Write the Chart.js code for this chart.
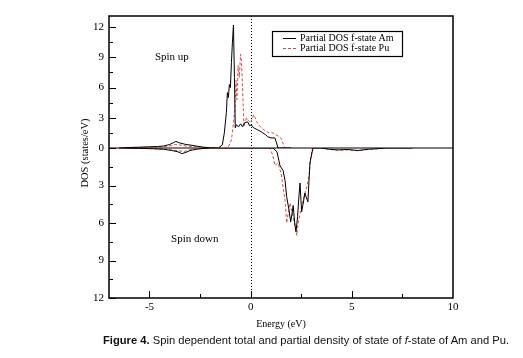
<!DOCTYPE html>
<html>
<head>
<meta charset="utf-8">
<script src="https://cdn.jsdelivr.net/npm/chart.js@4.4.1/dist/chart.umd.min.js"></script>
<style>
  html, body { margin: 0; padding: 0; background: #fff; }
  #wrap { position: relative; width: 523px; height: 358px; }
  #caption { position: absolute; left: 103px; top: 334px; font-family: 'Liberation Sans', Arial, sans-serif; font-size: 11.2px; color: #111; white-space: nowrap; }
</style>
</head>
<body>
<div id="wrap">
  <canvas id="c" width="523" height="358"></canvas>
  <div id="caption"><b>Figure 4.</b> Spin dependent total and partial density of state of <i>f</i>-state of Am and Pu.</div>
</div>
<script>
// ---- data ----
const seriesLabels = ['Partial DOS f-state Am', 'Partial DOS f-state Pu'];

const energyAmUp = [-6.5, -6, -5.5, -5, -4.6, -4.3, -4.0, -3.8, -3.7, -3.5, -3.2, -3.0, -2.7, -2.4, -2.0, -1.6, -1.4, -1.3, -1.2, -1.15, -1.1, -1.05, -1.0, -0.95, -0.9, -0.85, -0.8, -0.76, -0.7, -0.6, -0.5, -0.4, -0.3, -0.15, -0.05, 0.03, 0.15, 0.35, 0.45, 0.6, 0.75, 0.85, 1.0, 1.2, 1.28, 1.35, 2.0];
const dosAmUp    = [0, 0.05, 0.08, 0.12, 0.15, 0.2, 0.35, 0.55, 0.65, 0.5, 0.35, 0.3, 0.2, 0.1, 0.02, 0, 0.3, 1.5, 3.5, 5.5, 5.0, 6.3, 6.0, 8.5, 10.5, 12.2, 7.0, 2.0, 2.3, 2.1, 2.4, 2.1, 2.5, 2.6, 2.2, 2.3, 2.0, 1.8, 1.7, 1.5, 1.3, 1.1, 1.0, 1.0, 0.5, 0, 0];

const energyAmDown = [-6.5, -5.5, -4.8, -4.3, -3.9, -3.6, -3.4, -3.2, -3.0, -2.7, -2.4, -2.0, 1.1, 1.3, 1.45, 1.6, 1.7, 1.78, 1.9, 1.98, 2.05, 2.1, 2.18, 2.24, 2.32, 2.38, 2.44, 2.52, 2.6, 2.68, 2.76, 2.83, 2.93, 3.08, 3.5, 3.9, 4.3, 4.8, 5.3, 5.8, 6.3, 6.7, 8];
const dosAmDown    = [0, -0.03, -0.06, -0.1, -0.2, -0.3, -0.45, -0.35, -0.2, -0.1, -0.05, 0, 0, -0.3, -1.4, -1.8, -2.6, -3.9, -5.0, -5.9, -5.2, -4.6, -6.0, -6.7, -5.5, -4.0, -2.8, -5.1, -4.4, -3.6, -4.0, -4.3, -1.2, 0, 0, -0.1, -0.15, -0.12, -0.2, -0.1, -0.05, 0, 0];

const energyPuUp = [-6.5, -6, -5.5, -5, -4.5, -4.2, -3.9, -3.7, -3.5, -3.2, -2.9, -2.6, -2.3, -2.0, -1.5, -1.1, -0.95, -0.85, -0.78, -0.72, -0.68, -0.62, -0.56, -0.5, -0.45, -0.4, -0.33, -0.27, -0.2, -0.1, 0, 0.08, 0.15, 0.22, 0.3, 0.4, 0.53, 0.65, 0.8, 0.95, 1.1, 1.25, 1.44, 1.55, 1.62, 1.7, 2.0];
const dosPuUp    = [0, 0.03, 0.06, 0.08, 0.1, 0.15, 0.25, 0.35, 0.3, 0.2, 0.15, 0.1, 0.05, 0.02, 0, 0.1, 0.8, 2.5, 3.8, 6.7, 4.8, 8.2, 7.0, 9.3, 8.5, 6.0, 2.1, 2.6, 3.0, 2.7, 2.5, 2.9, 3.3, 3.0, 2.6, 2.3, 2.0, 1.8, 1.6, 1.5, 1.5, 1.3, 1.1, 0.8, 0.3, 0, 0];

const energyPuDown = [-6.5, -5.5, -4.8, -4.3, -3.9, -3.6, -3.3, -3.0, -2.6, -2.0, 0.95, 1.1, 1.2, 1.35, 1.5, 1.62, 1.7, 1.78, 1.88, 1.95, 2.02, 2.1, 2.2, 2.28, 2.35, 2.45, 2.53, 2.65, 2.78, 2.9, 2.97, 3.05, 3.5, 3.9, 4.3, 4.8, 5.3, 5.8, 6.3, 6.7, 8];
const dosPuDown    = [0, -0.02, -0.05, -0.08, -0.15, -0.22, -0.28, -0.15, -0.05, 0, 0, -0.6, -1.4, -1.2, -2.0, -3.3, -4.2, -6.0, -5.0, -4.4, -5.0, -5.5, -6.4, -7.0, -6.0, -5.2, -4.6, -3.8, -3.1, -2.0, -0.7, 0, 0, -0.12, -0.18, -0.15, -0.22, -0.12, -0.05, 0, 0];

const xMajorTicks = [-5, 0, 5, 10];
const yMajorTicks = [0, 3, 6, 9, 12];

// ---- build ----
const pts = (xs, ys) => xs.map((x, i) => ({ x: x, y: ys[i] }));
const amColor = '#000000';
const puColor = '#c9504f';
const serif = "'Liberation Serif', 'Times New Roman', serif";

function ds(label, data, color, dashed, yAxis) {
  return {
    label: label, data: data, borderColor: color, borderWidth: 1,
    borderDash: dashed ? [3, 2] : [], pointRadius: 0, tension: 0,
    fill: false, yAxisID: yAxis
  };
}

const datasets = [
  ds(seriesLabels[0], pts(energyAmUp, dosAmUp), amColor, false, 'yUp'),
  ds(seriesLabels[1], pts(energyPuUp, dosPuUp), puColor, true, 'yUp'),
  ds(seriesLabels[0], pts(energyAmDown, dosAmDown), amColor, false, 'yDn'),
  ds(seriesLabels[1], pts(energyPuDown, dosPuDown), puColor, true, 'yDn')
];

const decor = {
  id: 'decor',
  beforeDatasetsDraw(chart) {
    const { ctx, chartArea: a, scales } = chart;
    const x0 = scales.x.getPixelForValue(0);
    const y0 = scales.yUp.getPixelForValue(0);
    ctx.save();
    ctx.strokeStyle = '#7f7f7f';
    ctx.lineWidth = 2;
    ctx.beginPath(); ctx.moveTo(a.left, y0); ctx.lineTo(a.right, y0); ctx.stroke();
    ctx.strokeStyle = '#000';
    ctx.lineWidth = 1;
    ctx.setLineDash([1, 2]);
    ctx.beginPath(); ctx.moveTo(Math.round(x0) + 0.5, a.top); ctx.lineTo(Math.round(x0) + 0.5, a.bottom); ctx.stroke();
    ctx.restore();
  },
  afterDatasetsDraw(chart) {
    const { ctx, chartArea: a, scales } = chart;
    ctx.save();
    ctx.strokeStyle = '#000';
    ctx.setLineDash([]);
    ctx.lineWidth = 1.5;
    ctx.strokeRect(a.left, a.top, a.right - a.left, a.bottom - a.top);
    ctx.lineWidth = 1;
    scales.x.ticks.forEach(t => {
      const v = t.value;
      if (Math.abs(v / 2.5 - Math.round(v / 2.5)) > 1e-6) return;
      if (v <= scales.x.min || v >= scales.x.max) return;
      const px = Math.round(scales.x.getPixelForValue(v)) + 0.5;
      const len = xMajorTicks.includes(v) ? 7 : 4;
      ctx.beginPath(); ctx.moveTo(px, a.bottom); ctx.lineTo(px, a.bottom - len); ctx.stroke();
    });
    ['yUp', 'yDn'].forEach(id => {
      const s = scales[id];
      s.ticks.forEach(t => {
        const v = t.value;
        if (Math.abs(v / 1.5 - Math.round(v / 1.5)) > 1e-6) return;
        const py = Math.round(s.getPixelForValue(v)) + 0.5;
        const len = yMajorTicks.includes(Math.abs(v)) ? 7 : 4;
        ctx.beginPath(); ctx.moveTo(a.left, py); ctx.lineTo(a.left + len, py); ctx.stroke();
      });
    });
    ctx.fillStyle = '#000';
    ctx.font = '11px ' + serif;
    ctx.textBaseline = 'middle';
    ctx.textAlign = 'left';
    ctx.fillText('Spin up', scales.x.getPixelForValue(-4.73), scales.yUp.getPixelForValue(9.0));
    ctx.fillText('Spin down', scales.x.getPixelForValue(-3.93), scales.yDn.getPixelForValue(-7.3));
    const lx = a.left + 163, ly = a.top + 15, lw = 130, lh = 25;
    ctx.fillStyle = '#fff';
    ctx.fillRect(lx, ly, lw, lh);
    ctx.strokeStyle = '#000';
    ctx.lineWidth = 1.2;
    ctx.strokeRect(lx + 0.5, ly + 0.5, lw, lh);
    ctx.font = '10px ' + serif;
    [[amColor, [], seriesLabels[0]], [puColor, [3, 2], seriesLabels[1]]].forEach((e, i) => {
      const yy = ly + 7 + i * 10;
      ctx.strokeStyle = e[0];
      ctx.lineWidth = 1;
      ctx.setLineDash(e[1]);
      ctx.beginPath(); ctx.moveTo(lx + 11, yy + 0.5); ctx.lineTo(lx + 24, yy + 0.5); ctx.stroke();
      ctx.setLineDash([]);
      ctx.fillStyle = '#000';
      ctx.fillText(e[2], lx + 28, yy + 0.5);
    });
    ctx.restore();
  }
};

new Chart(document.getElementById('c'), {
  type: 'line',
  data: { datasets: datasets },
  options: {
    responsive: false,
    animation: false,
    layout: { padding: { left: 68, right: 70, top: 16, bottom: 28 } },
    plugins: { legend: { display: false }, tooltip: { enabled: false } },
    scales: {
      x: {
        type: 'linear', min: -7, max: 10,
        grid: { display: false, drawTicks: false },
        border: { display: false },
        ticks: {
          stepSize: 2.5, padding: 3, color: '#000', autoSkip: false, maxRotation: 0,
          font: { family: serif, size: 11 },
          callback: v => xMajorTicks.includes(v) ? String(v) : ''
        },
        title: { display: true, text: 'Energy (eV)', color: '#000', font: { family: serif, size: 10 }, padding: { top: 5, bottom: 0 } },
        afterFit: s => { s.height = 32; }
      },
      yDn: {
        type: 'linear', position: 'left', stack: 'dos', stackWeight: 150,
        min: -12, max: 0,
        grid: { display: false, drawTicks: false },
        border: { display: false },
        ticks: {
          stepSize: 1.5, padding: 5, color: '#000', autoSkip: false,
          font: { family: serif, size: 11 },
          callback: v => (v !== 0 && yMajorTicks.includes(Math.abs(v))) ? String(Math.abs(v)) : ''
        },
        title: { display: false },
        afterFit: s => { s.width = 41; }
      },
      yUp: {
        type: 'linear', position: 'left', stack: 'dos', stackWeight: 132,
        min: 0, max: 13.1,
        grid: { display: false, drawTicks: false },
        border: { display: false },
        ticks: {
          stepSize: 1.5, padding: 5, color: '#000', autoSkip: false, includeBounds: false,
          font: { family: serif, size: 11 },
          callback: v => (yMajorTicks.includes(v)) ? String(v) : ''
        },
        title: { display: false },
        afterFit: s => { s.width = 41; }
      }
    }
  },
  plugins: [decor, {
    id: 'ytitle',
    afterDraw(chart) {
      const { ctx } = chart;
      ctx.save();
      ctx.fillStyle = '#000';
      ctx.font = '10.5px ' + serif;
      ctx.textAlign = 'center';
      ctx.textBaseline = 'middle';
      ctx.translate(85, 153);
      ctx.rotate(-Math.PI / 2);
      ctx.fillText('DOS (states/eV)', 0, 0);
      ctx.restore();
    }
  }]
});
</script>
</body>
</html>
